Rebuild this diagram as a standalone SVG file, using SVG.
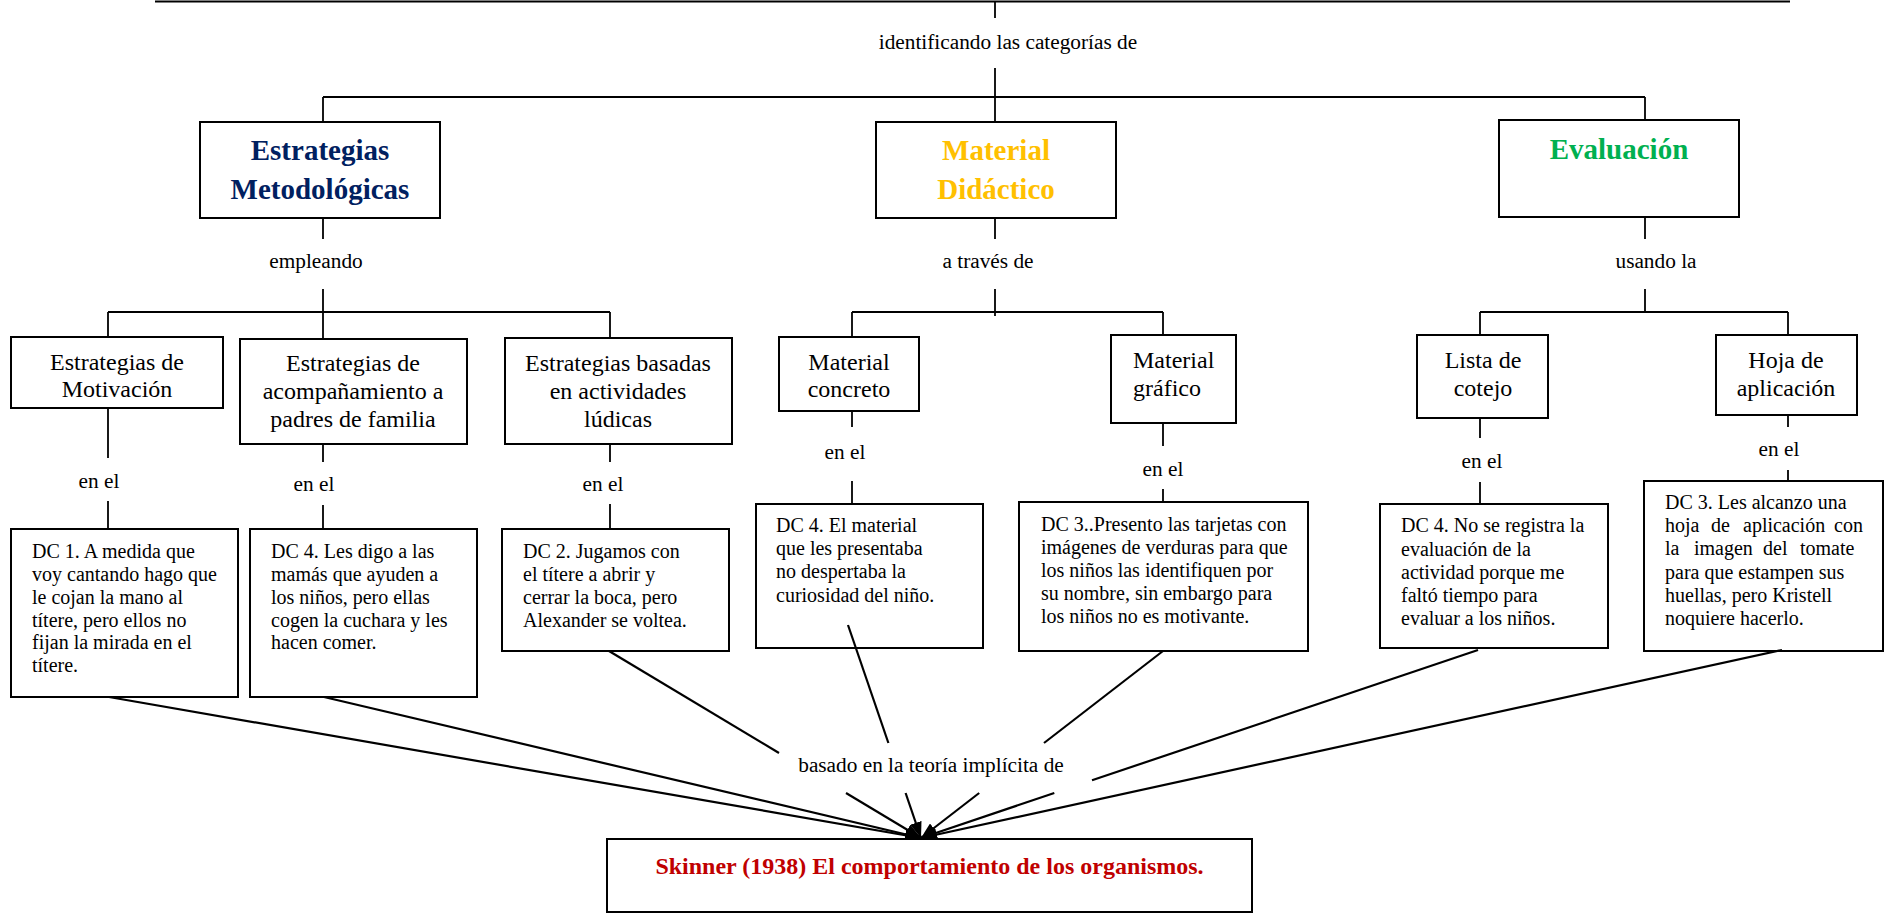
<svg xmlns="http://www.w3.org/2000/svg" width="1885" height="913" viewBox="0 0 1885 913">
<style>
text{font-family:"Liberation Serif","Times New Roman",serif;fill:#000}
.box{fill:#fff;stroke:#000;stroke-width:2}
.ln{stroke:#000;stroke-width:1.8;fill:none}
.ar{stroke:#000;stroke-width:2.2;fill:none}
.lbl{font-size:21.3px;text-anchor:middle}
.sub{font-size:24px;text-anchor:middle}
.dc{font-size:20px}
.cat{font-size:29px;font-weight:bold;text-anchor:middle}
</style>
<defs>
<marker id="arr" markerWidth="16" markerHeight="12" refX="16" refY="6" orient="auto" markerUnits="userSpaceOnUse">
<path d="M0,0 L16,6 L0,12 z" fill="#000"/>
</marker>
</defs>
<rect width="1885" height="913" fill="#fff"/>

<g id="connectors">
<line class="ln" x1="155" y1="1.5" x2="1790" y2="1.5" stroke-width="2.5"/>
<line class="ln" x1="995" y1="1" x2="995" y2="18"/>
<line class="ln" x1="995" y1="68" x2="995" y2="122"/>
<line class="ln" x1="323" y1="97" x2="1645" y2="97"/>
<line class="ln" x1="323" y1="97" x2="323" y2="122"/>
<line class="ln" x1="1645" y1="97" x2="1645" y2="120"/>
<line class="ln" x1="323" y1="218" x2="323" y2="239"/>
<line class="ln" x1="323" y1="289" x2="323" y2="339"/>
<line class="ln" x1="108" y1="312" x2="610" y2="312"/>
<line class="ln" x1="108" y1="312" x2="108" y2="337"/>
<line class="ln" x1="610" y1="312" x2="610" y2="338"/>
<line class="ln" x1="995" y1="218" x2="995" y2="239"/>
<line class="ln" x1="995" y1="289" x2="995" y2="316"/>
<line class="ln" x1="852" y1="312" x2="1163" y2="312"/>
<line class="ln" x1="852" y1="312" x2="852" y2="337"/>
<line class="ln" x1="1163" y1="312" x2="1163" y2="335"/>
<line class="ln" x1="1645" y1="217" x2="1645" y2="239"/>
<line class="ln" x1="1645" y1="289" x2="1645" y2="312"/>
<line class="ln" x1="1480" y1="312" x2="1788" y2="312"/>
<line class="ln" x1="1480" y1="312" x2="1480" y2="335"/>
<line class="ln" x1="1788" y1="312" x2="1788" y2="335"/>
<line class="ln" x1="108" y1="408" x2="108" y2="458"/>
<line class="ln" x1="108" y1="501" x2="108" y2="529"/>
<line class="ln" x1="323" y1="444" x2="323" y2="462"/>
<line class="ln" x1="323" y1="505" x2="323" y2="529"/>
<line class="ln" x1="610" y1="444" x2="610" y2="462"/>
<line class="ln" x1="610" y1="504" x2="610" y2="529"/>
<line class="ln" x1="852" y1="411" x2="852" y2="427"/>
<line class="ln" x1="852" y1="481" x2="852" y2="504"/>
<line class="ln" x1="1163" y1="423" x2="1163" y2="446"/>
<line class="ln" x1="1163" y1="489" x2="1163" y2="502"/>
<line class="ln" x1="1480" y1="418" x2="1480" y2="438"/>
<line class="ln" x1="1480" y1="482" x2="1480" y2="504"/>
<line class="ln" x1="1788" y1="415" x2="1788" y2="427"/>
<line class="ln" x1="1788" y1="470" x2="1788" y2="481"/>
</g>

<g id="n-top-label"><text class="lbl" x="1008" y="49">identificando las categorías de</text></g>

<g id="n-estrategias">
<rect class="box" x="200" y="122" width="240" height="96"/>
<text class="cat" x="320" y="160" style="fill:#002060">Estrategias</text>
<text class="cat" x="320" y="199" style="fill:#002060">Metodológicas</text>
</g>
<g id="n-material">
<rect class="box" x="876" y="122" width="240" height="96"/>
<text class="cat" x="996" y="160" style="fill:#FFC000">Material</text>
<text class="cat" x="996" y="199" style="fill:#FFC000">Didáctico</text>
</g>
<g id="n-evaluacion">
<rect class="box" x="1499" y="120" width="240" height="97"/>
<text class="cat" x="1619" y="159" style="fill:#00B050">Evaluación</text>
</g>

<g id="l-empleando"><text class="lbl" x="316" y="268">empleando</text></g>
<g id="l-traves"><text class="lbl" x="988" y="268">a través de</text></g>
<g id="l-usando"><text class="lbl" x="1656" y="268">usando la</text></g>

<g id="n-motivacion">
<rect class="box" x="11" y="337" width="212" height="71"/>
<text class="sub" x="117" y="370">Estrategias de</text>
<text class="sub" x="117" y="397">Motivación</text>
</g>
<g id="n-acompanamiento">
<rect class="box" x="240" y="339" width="227" height="105"/>
<text class="sub" x="353" y="371">Estrategias de</text>
<text class="sub" x="353" y="399">acompañamiento a</text>
<text class="sub" x="353" y="427">padres de familia</text>
</g>
<g id="n-ludicas">
<rect class="box" x="505" y="338" width="227" height="106"/>
<text class="sub" x="618" y="371">Estrategias basadas</text>
<text class="sub" x="618" y="399">en actividades</text>
<text class="sub" x="618" y="427">lúdicas</text>
</g>
<g id="n-concreto">
<rect class="box" x="779" y="337" width="140" height="74"/>
<text class="sub" x="849" y="370">Material</text>
<text class="sub" x="849" y="397">concreto</text>
</g>
<g id="n-grafico">
<rect class="box" x="1111" y="335" width="125" height="88"/>
<text class="sub" x="1133" y="368" style="text-anchor:start">Material</text>
<text class="sub" x="1133" y="396" style="text-anchor:start">gráfico</text>
</g>
<g id="n-lista">
<rect class="box" x="1417" y="335" width="131" height="83"/>
<text class="sub" x="1483" y="368">Lista de</text>
<text class="sub" x="1483" y="396">cotejo</text>
</g>
<g id="n-hoja">
<rect class="box" x="1716" y="335" width="141" height="80"/>
<text class="sub" x="1786" y="368">Hoja de</text>
<text class="sub" x="1786" y="396">aplicación</text>
</g>

<g id="l-enel">
<text class="lbl" x="99" y="488">en el</text>
<text class="lbl" x="314" y="491">en el</text>
<text class="lbl" x="603" y="491">en el</text>
<text class="lbl" x="845" y="459">en el</text>
<text class="lbl" x="1163" y="476">en el</text>
<text class="lbl" x="1482" y="468">en el</text>
<text class="lbl" x="1779" y="456">en el</text>
</g>

<g id="n-dc1">
<rect class="box" x="11" y="529" width="227" height="168"/>
<text class="dc" x="32" y="558">DC 1. A medida que</text>
<text class="dc" x="32" y="581">voy cantando hago que</text>
<text class="dc" x="32" y="604">le cojan la mano al</text>
<text class="dc" x="32" y="627">títere, pero ellos no</text>
<text class="dc" x="32" y="649">fijan la mirada en el</text>
<text class="dc" x="32" y="672">títere.</text>
</g>
<g id="n-dc4a">
<rect class="box" x="250" y="529" width="227" height="168"/>
<text class="dc" x="271" y="558">DC 4. Les digo a las</text>
<text class="dc" x="271" y="581">mamás que ayuden a</text>
<text class="dc" x="271" y="604">los niños, pero ellas</text>
<text class="dc" x="271" y="627">cogen la cuchara y les</text>
<text class="dc" x="271" y="649">hacen comer.</text>
</g>
<g id="n-dc2">
<rect class="box" x="502" y="529" width="227" height="122"/>
<text class="dc" x="523" y="558">DC 2. Jugamos con</text>
<text class="dc" x="523" y="581">el títere a abrir y</text>
<text class="dc" x="523" y="604">cerrar la boca, pero</text>
<text class="dc" x="523" y="627">Alexander se voltea.</text>
</g>
<g id="n-dc4b">
<rect class="box" x="756" y="504" width="227" height="144"/>
<text class="dc" x="776" y="532">DC 4. El material</text>
<text class="dc" x="776" y="555">que les presentaba</text>
<text class="dc" x="776" y="578">no despertaba la</text>
<text class="dc" x="776" y="601.5">curiosidad del niño.</text>
</g>
<g id="n-dc3a">
<rect class="box" x="1019" y="502" width="289" height="149"/>
<text class="dc" x="1041" y="531">DC 3..Presento las tarjetas con</text>
<text class="dc" x="1041" y="554">imágenes de verduras para que</text>
<text class="dc" x="1041" y="577">los niños las identifiquen por</text>
<text class="dc" x="1041" y="600">su nombre, sin embargo para</text>
<text class="dc" x="1041" y="623">los niños no es motivante.</text>
</g>
<g id="n-dc4c">
<rect class="box" x="1380" y="504" width="228" height="144"/>
<text class="dc" x="1401" y="532">DC 4. No se registra la</text>
<text class="dc" x="1401" y="555.5">evaluación de la</text>
<text class="dc" x="1401" y="578.5">actividad porque me</text>
<text class="dc" x="1401" y="601.5">faltó tiempo para</text>
<text class="dc" x="1401" y="625">evaluar a los niños.</text>
</g>
<g id="n-dc3b">
<rect class="box" x="1644" y="481" width="239" height="170"/>
<text class="dc" x="1665" y="509">DC 3. Les alcanzo una</text>
<text class="dc" y="532"><tspan x="1665">hoja</tspan><tspan x="1711">de</tspan><tspan x="1743">aplicación</tspan><tspan x="1834">con</tspan></text>
<text class="dc" y="555.4"><tspan x="1665">la</tspan><tspan x="1694">imagen</tspan><tspan x="1763">del</tspan><tspan x="1800">tomate</tspan></text>
<text class="dc" x="1665" y="578.6">para que estampen sus</text>
<text class="dc" x="1665" y="601.8">huellas, pero Kristell</text>
<text class="dc" x="1665" y="625">noquiere hacerlo.</text>
</g>

<g id="skinner-connectors">
<line class="ar" x1="109" y1="697" x2="921" y2="838" marker-end="url(#arr)"/>
<line class="ar" x1="324" y1="697" x2="921" y2="838" marker-end="url(#arr)"/>
<line class="ar" x1="609" y1="651" x2="779" y2="753"/>
<line class="ar" x1="846" y1="793" x2="921" y2="838" marker-end="url(#arr)"/>
<line class="ar" x1="848" y1="625" x2="888.4" y2="743"/>
<line class="ar" x1="905.6" y1="793" x2="921" y2="838" marker-end="url(#arr)"/>
<line class="ar" x1="1163" y1="651" x2="1044" y2="743"/>
<line class="ar" x1="979.2" y1="793" x2="921" y2="838" marker-end="url(#arr)"/>
<line class="ar" x1="1478" y1="650" x2="1092" y2="780.3"/>
<line class="ar" x1="1054.3" y1="793" x2="921" y2="838" marker-end="url(#arr)"/>
<line class="ar" x1="1782" y1="650" x2="921" y2="838" marker-end="url(#arr)"/>
</g>

<g id="l-basado"><text class="lbl" x="931" y="772">basado en la teoría implícita de</text></g>

<g id="n-skinner">
<rect class="box" x="607" y="839" width="645" height="73"/>
<text x="929.5" y="874" style="font-size:24px;font-weight:bold;text-anchor:middle;fill:#C00000">Skinner (1938) El comportamiento de los organismos.</text>
</g>
</svg>
